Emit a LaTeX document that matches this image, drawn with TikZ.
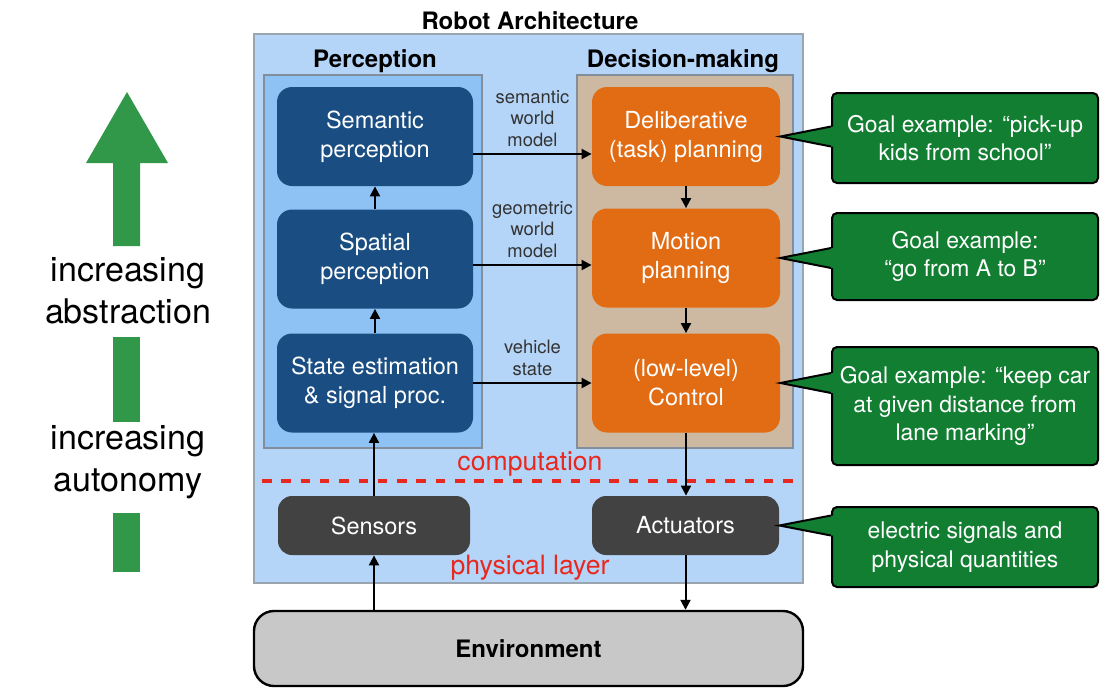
\documentclass[tikz,border=0pt]{standalone}
\usepackage{fontspec}
\setmainfont{TeX Gyre Heros}
\usetikzlibrary{arrows.meta,positioning,calc}
\definecolor{outerblue}{RGB}{181,213,248}
\definecolor{percframe}{RGB}{142,194,244}
\definecolor{decframe}{RGB}{205,185,162}
\definecolor{framegray}{RGB}{130,142,155}
\definecolor{percnode}{RGB}{26,78,130}
\definecolor{decnode}{RGB}{225,108,20}
\definecolor{hwnode}{RGB}{66,66,66}
\definecolor{goalgreen}{RGB}{18,126,50}
\definecolor{upgreen}{RGB}{48,152,72}
\definecolor{envgray}{RGB}{200,200,200}
\definecolor{layerred}{RGB}{232,40,30}

\begin{document}
\begin{tikzpicture}[x=0.5pt,y=-0.5pt,
  percbox/.style={rounded corners=7.5pt, fill=percnode, text=white, align=center, minimum width=98pt, minimum height=49.5pt, font=\fontsize{11.75}{14.5}\selectfont},
  decbox/.style={percbox, fill=decnode, minimum width=94pt},
  hwbox/.style={percbox, fill=hwnode, minimum height=29.5pt, rounded corners=7pt},
  goalbox/.style={rounded corners=2.5pt, fill=goalgreen, draw=black, line width=1pt, text=white, align=center, minimum width=133pt, font=\fontsize{11.45}{14.3}\selectfont},
  titletext/.style={font=\fontsize{12}{14}\selectfont\bfseries},
  flowlabel/.style={font=\fontsize{9.2}{10.9}\selectfont, text=black!80, align=center, inner sep=1pt},
  flow/.style={line width=1pt, -{Triangle[length=5pt,width=5pt]}},
  sidetext/.style={font=\fontsize{17}{21}\selectfont, align=center}]

\useasboundingbox (0,0) rectangle (1110,692);

% frames
\draw[fill=outerblue, draw=framegray!80, line width=1pt] (254,34) rectangle (803,583);
\draw[fill=percframe, draw=framegray, line width=1pt] (264,75) rectangle (482,448);
\draw[fill=decframe, draw=framegray, line width=1pt] (577,75) rectangle (793,448);

\node[titletext] (archtitle) at (530,21) {Robot Architecture};
\node[titletext] (perctitle) at (375,61) {Perception};
\node[titletext] (dectitle) at (683,61) {Decision-making};

% perception
\node[percbox] (sem) at (375,136.5) {Semantic\\perception};
\node[percbox] (spa) at (375,259) {Spatial\\perception};
\node[percbox] (est) at (375,383) {State estimation\\\& signal proc.};

% decision-making
\node[decbox] (delib) at (686,136.5) {Deliberative\\(task) planning};
\node[decbox] (motion) at (686,258) {Motion\\planning};
\node[decbox] (ctrl) at (686,383) {(low-level)\\Control};

% physical layer
\node[hwbox, minimum width=96pt] (sens) at (374,525.5) {Sensors};
\node[hwbox, minimum width=93.5pt] (act) at (685.5,525.5) {Actuators};
\node[rounded corners=10pt, fill=envgray, draw=black, line width=1.2pt, minimum width=274.5pt, minimum height=37.5pt, font=\fontsize{12}{14}\selectfont\bfseries] (env) at (528.5,648.5) {Environment};

\draw[layerred, line width=2pt, dash pattern=on 4.75pt off 4.9pt] (262,481) -- (795,481);
\node[text=layerred, font=\fontsize{13.3}{15}\selectfont] (comp) at (530,464) {computation};
\node[text=layerred, font=\fontsize{13.3}{15}\selectfont] (phys) at (530,568) {physical layer};

% connectors
\draw[flow] (spa.north) -- (sem.south);
\draw[flow] (est.north) -- (spa.south);
\draw[flow] (sens.north) -- (sens.north |- est.south);
\draw[flow] (sens.south |- env.north) -- (sens.south);
\draw[flow] (delib.south) -- (motion.north);
\draw[flow] (motion.south) -- (ctrl.north);
\draw[flow] (ctrl.south) -- (ctrl.south |- act.north);
\draw[flow] (act.south) -- (act.south |- env.north);
\coordinate (semout) at ($(sem.east)+(0,17.5)$);
\coordinate (spaout) at ($(spa.east)+(0,6)$);
\draw[flow] (semout) -- (semout -| delib.west) node[flowlabel, midway, above=2pt] {semantic\\world\\model};
\draw[flow] (spaout) -- (spaout -| motion.west) node[flowlabel, midway, above=2pt] {geometric\\world\\model};
\draw[flow] (est.east) -- (est.east -| ctrl.west) node[flowlabel, midway, above=2pt] {vehicle\\state};

% goal examples
\node[goalbox, minimum height=45pt] (goaltask) at (965,138) {Goal example: “pick-up\\kids from school”};
\node[goalbox, minimum height=43.5pt] (goalmotion) at (965,256.5) {Goal example:\\“go from A to B”};
\node[goalbox, minimum height=59pt] (goalctrl) at (965,406) {Goal example: “keep car\\at given distance from\\lane marking”};
\node[goalbox, minimum height=40pt] (goalact) at (965,547) {electric signals and\\physical quantities};

\fill[goalgreen] (delib.east) -- ($(goaltask.west |- delib.east)+(0,-10)$) -- ++(4,0) -- ++(0,20) -- ++(-4,0) -- cycle;
\draw[line width=1pt] ($(goaltask.west |- delib.east)+(0,-10)$) -- (delib.east) -- ($(goaltask.west |- delib.east)+(0,10)$);
\fill[goalgreen] (motion.east) -- ($(goalmotion.west |- motion.east)+(0,-10)$) -- ++(4,0) -- ++(0,20) -- ++(-4,0) -- cycle;
\draw[line width=1pt] ($(goalmotion.west |- motion.east)+(0,-10)$) -- (motion.east) -- ($(goalmotion.west |- motion.east)+(0,10)$);
\fill[goalgreen] (ctrl.east) -- ($(goalctrl.west |- ctrl.east)+(0,-10)$) -- ++(4,0) -- ++(0,20) -- ++(-4,0) -- cycle;
\draw[line width=1pt] ($(goalctrl.west |- ctrl.east)+(0,-10)$) -- (ctrl.east) -- ($(goalctrl.west |- ctrl.east)+(0,10)$);
\fill[goalgreen] (act.east) -- ($(goalact.west |- act.east)+(0,-10)$) -- ++(4,0) -- ++(0,20) -- ++(-4,0) -- cycle;
\draw[line width=1pt] ($(goalact.west |- act.east)+(0,-10)$) -- (act.east) -- ($(goalact.west |- act.east)+(0,10)$);

% increasing abstraction / autonomy
\fill[upgreen] (86,163) -- (127,92) -- (168,163) -- (140,163) -- (140,246) -- (113,246) -- (113,163) -- cycle;
\fill[upgreen] (113,337) rectangle (140,422);
\fill[upgreen] (113,513) rectangle (140,572);
\node[sidetext] (abstr) at (128,291) {increasing\\abstraction};
\node[sidetext] (auton) at (128,462) {increasing\\autonomy};

\end{tikzpicture}
\end{document}
